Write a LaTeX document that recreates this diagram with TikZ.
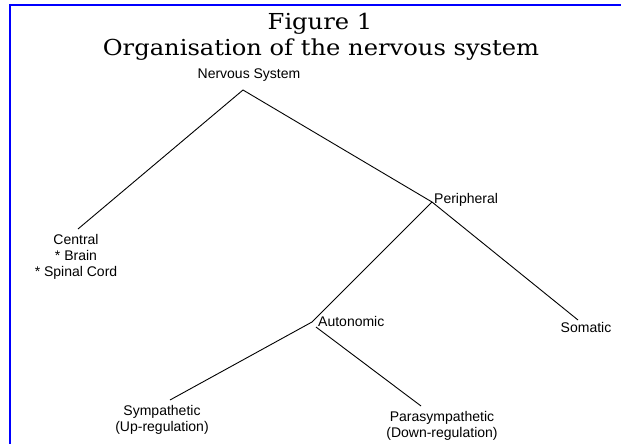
\documentclass[tikz,border=0pt]{standalone}
\usepackage{fontspec}
\setmainfont{DejaVu Serif}
\newfontfamily\labelfont{Liberation Sans}
\begin{document}
\begin{tikzpicture}[x=1pt,y=-1pt,
  lbl/.style={font=\labelfont\fontsize{14}{16}\selectfont, inner sep=0pt, align=center},
  heading/.style={font=\fontsize{22}{26}\selectfont, inner sep=0pt, anchor=base, xscale=1.1},
  branch/.style={draw=black, line width=0.9pt},
  frameline/.style={draw={rgb,255:red,0;green,0;blue,255}, line width=2pt}]
\useasboundingbox (0,0) rectangle (621,444);
% frame on the left and top
\draw[frameline] (9.5,444) -- (9.5,5) -- (621,5);

% headings
\node[heading] (fig) at (320,30) {Figure 1};
\node[heading] (title) at (321,56) {Organisation of the nervous system};

% branching points and line ends
\coordinate (nsv) at (243,90);
\coordinate (centralend) at (78,229);
\coordinate (periph) at (432,202);
\coordinate (somend) at (578,320);
\coordinate (auto) at (312,322);
\coordinate (parastart) at (316,327);
\coordinate (sympend) at (170,400);
\coordinate (paraend) at (421,406);

% labels
\node[lbl, anchor=base] (ns) at (249,78) {Nervous System};
\node[lbl, anchor=north] (central) at (76,234) {Central\\* Brain\\* Spinal Cord};
\node[lbl, anchor=base west] (periphlbl) at (434,203) {Peripheral};
\node[lbl, anchor=base] (somatic) at (586,332) {Somatic};
\node[lbl, anchor=base west] (autolbl) at (318,326) {Autonomic};
\node[lbl, anchor=north] (symp) at (162,405) {Sympathetic\\(Up-regulation)};
\node[lbl, anchor=north] (para) at (442,411) {Parasympathetic\\(Down-regulation)};

% tree
\draw[branch] (centralend) -- (nsv) -- (periph) -- (somend);
\draw[branch] (periph) -- (auto) -- (sympend);
\draw[branch] (parastart) -- (paraend);
\end{tikzpicture}
\end{document}
